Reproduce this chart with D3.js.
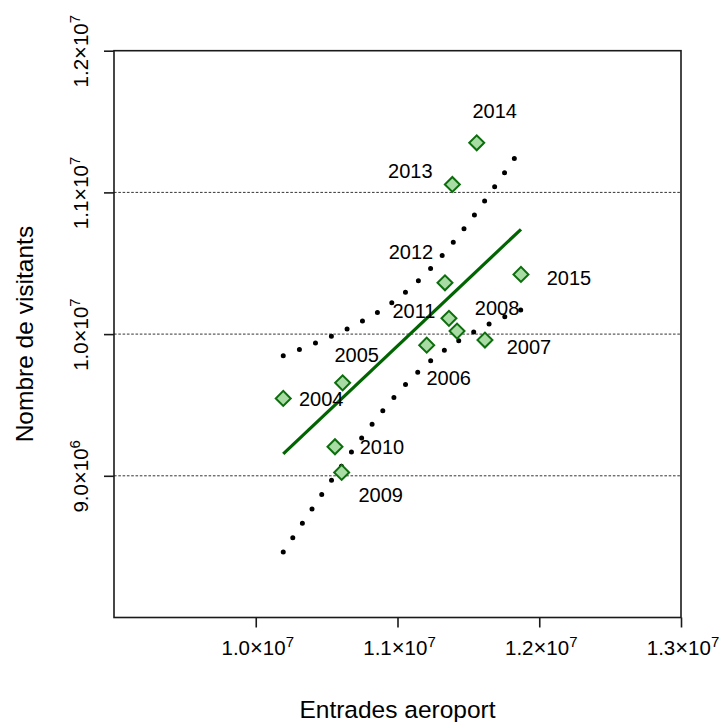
<!DOCTYPE html>
<html>
<head>
<meta charset="utf-8">
<script src="https://cdn.jsdelivr.net/npm/d3@7"></script>
<style>
  body { margin: 0; background: #fff; }
  text { font-family: "Liberation Sans", Arial, Helvetica, sans-serif; fill: #000; }
</style>
</head>
<body>
<div id="chart"></div>
<script>
// data
var years = [2004, 2005, 2006, 2007, 2008, 2009, 2010, 2011, 2012, 2013, 2014, 2015];
var entrades = [10194000, 10613000, 11206000, 11617000, 11420000, 10606000,
                10559000, 11363000, 11335000, 11387000, 11559000, 11871000];
var visitants = [9546000, 9656000, 9922000, 9958000, 10021000, 9024000,
                 9205000, 10111000, 10362000, 11056000, 11350000, 10421000];
var xTicks = [1.0e7, 1.1e7, 1.2e7, 1.3e7];
var yTicks = [9.0e6, 1.0e7, 1.1e7, 1.2e7];
var gridLines = [9.0e6, 1.0e7, 1.1e7];

// label placement around each point (px offsets, layout only)
var labelDx = [38, 14, 22, 44, 40, 39, 47, -35, -34, -42, 18, 48];
var labelDy = [0, -28, 33, 7, -23, 22, 0, -8, -31, -14, -32, 3];

var width = 720, height = 722;
var plotLeft = 114, plotRight = 681, plotTop = 50.7, plotBottom = 617.5;

var svg = d3.select('#chart').append('svg')
    .attr('width', width)
    .attr('height', height);

var x = d3.scaleLinear().domain([9.0e6, 1.3e7]).range([plotLeft, plotRight]);
var y = d3.scaleLinear().domain([8.0e6, 1.2e7]).range([plotBottom, plotTop]);

// linear fit + 95% confidence band for the mean
var n = entrades.length;
var mx = d3.mean(entrades), my = d3.mean(visitants);
var sxx = 0, sxy = 0;
for (var i = 0; i < n; i++) {
    sxx += (entrades[i] - mx) * (entrades[i] - mx);
    sxy += (entrades[i] - mx) * (visitants[i] - my);
}
var slope = sxy / sxx;
var icpt = my - slope * mx;
var sse = 0;
for (var i = 0; i < n; i++) {
    var r = visitants[i] - (icpt + slope * entrades[i]);
    sse += r * r;
}
var s = Math.sqrt(sse / (n - 2));
var tCrit = 2.228; // t(0.975, df = 10)

var xmin = d3.min(entrades), xmax = d3.max(entrades);
var band = d3.range(0, 201).map(function (k) {
    var xv = xmin + (xmax - xmin) * k / 200;
    var fit = icpt + slope * xv;
    var hw = tCrit * s * Math.sqrt(1 / n + (xv - mx) * (xv - mx) / sxx);
    return { x: xv, fit: fit, lo: fit - hw, hi: fit + hw };
});

// grid
svg.append('g').selectAll('line')
    .data(gridLines)
    .enter().append('line')
    .attr('x1', plotLeft).attr('x2', plotRight)
    .attr('y1', function (d) { return y(d); })
    .attr('y2', function (d) { return y(d); })
    .attr('stroke', '#000')
    .attr('stroke-width', 0.8)
    .attr('stroke-dasharray', '2.6,1.7');

// confidence band (dotted)
['hi', 'lo'].forEach(function (k) {
    svg.append('path')
        .datum(band)
        .attr('fill', 'none')
        .attr('stroke', '#000')
        .attr('stroke-width', 5)
        .attr('stroke-linecap', 'round')
        .attr('stroke-dasharray', '0,17.3')
        .attr('d', d3.line()
            .x(function (d) { return x(d.x); })
            .y(function (d) { return y(d[k]); }));
});

// regression line
svg.append('line')
    .attr('x1', x(xmin)).attr('y1', y(icpt + slope * xmin))
    .attr('x2', x(xmax)).attr('y2', y(icpt + slope * xmax))
    .attr('stroke', '#006400')
    .attr('stroke-width', 3.2);

// points
var diamond = d3.symbol().type(d3.symbolSquare).size(112);
svg.append('g').selectAll('path')
    .data(years)
    .enter().append('path')
    .attr('d', diamond)
    .attr('transform', function (d, i) {
        return 'translate(' + x(entrades[i]) + ',' + y(visitants[i]) + ') rotate(45)';
    })
    .attr('fill', '#a8dca4')
    .attr('stroke', '#0d6e0d')
    .attr('stroke-width', 2);

// year labels
svg.append('g').selectAll('text')
    .data(years)
    .enter().append('text')
    .attr('x', function (d, i) { return x(entrades[i]) + labelDx[i]; })
    .attr('y', function (d, i) { return y(visitants[i]) + labelDy[i]; })
    .attr('dy', '0.36em')
    .attr('text-anchor', 'middle')
    .style('font-size', '20px')
    .text(function (d) { return d; });

// box
svg.append('rect')
    .attr('x', plotLeft).attr('y', plotTop)
    .attr('width', plotRight - plotLeft).attr('height', plotBottom - plotTop)
    .attr('fill', 'none')
    .attr('stroke', '#1a1a1a')
    .attr('stroke-width', 1.6);

function sciLabel(sel, v) {
    var e = Math.floor(Math.log10(v));
    var m = (v / Math.pow(10, e)).toFixed(1);
    sel.text(null);
    sel.append('tspan').text(m);
    sel.append('tspan').style('font-size', '22px').text('\u00d7');
    sel.append('tspan').text('10');
    sel.append('tspan')
        .attr('dy', '-0.5em')
        .style('font-size', '15px')
        .text(e);
}

// x axis
var xAxis = svg.append('g')
    .attr('transform', 'translate(0,' + plotBottom + ')')
    .call(d3.axisBottom(x).tickValues(xTicks).tickSize(10).tickFormat(''));
xAxis.select('.domain').remove();
xAxis.selectAll('line').attr('stroke', '#1a1a1a').attr('stroke-width', 1.6);
xAxis.selectAll('.tick text').remove();
xAxis.selectAll('.tick').append('text')
    .attr('x', 1.5)
    .attr('y', 37)
    .attr('text-anchor', 'middle')
    .style('font-size', '20.5px')
    .each(function (d) { sciLabel(d3.select(this), d); });

// y axis
var yAxis = svg.append('g')
    .attr('transform', 'translate(' + plotLeft + ',0)')
    .call(d3.axisLeft(y).tickValues(yTicks).tickSize(10).tickFormat(''));
yAxis.select('.domain').remove();
yAxis.selectAll('line').attr('stroke', '#1a1a1a').attr('stroke-width', 1.6);
yAxis.selectAll('.tick text').remove();
yAxis.selectAll('.tick').append('text')
    .attr('transform', 'translate(-26.5,0) rotate(-90)')
    .attr('text-anchor', 'middle')
    .style('font-size', '20.5px')
    .each(function (d) { sciLabel(d3.select(this), d); });

// axis titles
svg.append('text')
    .attr('x', (plotLeft + plotRight) / 2)
    .attr('y', 718)
    .attr('text-anchor', 'middle')
    .style('font-size', '24.5px')
    .text('Entrades aeroport');

svg.append('text')
    .attr('transform', 'translate(33,' + ((plotTop + plotBottom) / 2) + ') rotate(-90)')
    .attr('text-anchor', 'middle')
    .style('font-size', '24.5px')
    .text('Nombre de visitants');
</script>
</body>
</html>
